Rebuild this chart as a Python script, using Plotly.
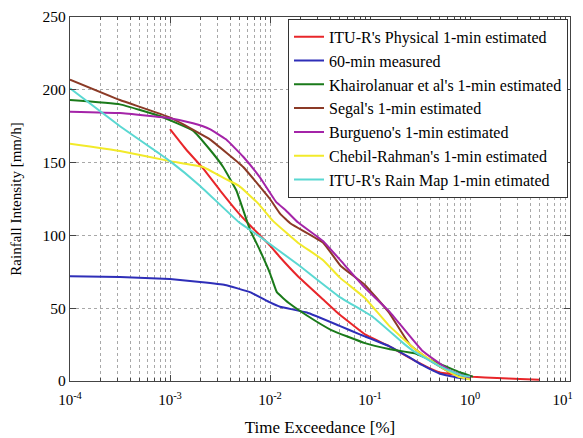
import plotly.graph_objects as go

# ---- data (time exceedance in %, rainfall intensity in mm/h) ----
red_x = [0.001, 0.00145, 0.00214, 0.00316, 0.0049, 0.0063, 0.01, 0.0126, 0.019, 0.034, 0.049, 0.089, 0.155, 0.28, 0.49, 0.79, 1.07, 1.86, 3.16, 5.0]
red_y = [173, 159, 146, 131, 115, 107, 93, 85, 72, 56, 46, 32, 24, 14, 6, 4, 3, 2, 1.3, 0.8]

blue_x = [0.0001, 0.000316, 0.001, 0.002, 0.00355, 0.0063, 0.01, 0.0126, 0.0234, 0.049, 0.079, 0.155, 0.251, 0.331, 0.5, 0.79, 1.0]
blue_y = [72, 71.5, 70, 68, 66, 61, 54, 51, 47, 38, 32, 24, 16, 11, 5, 2, 1.5]

green_x = [0.0001, 0.000316, 0.00079, 0.0017, 0.0025, 0.0034, 0.0046, 0.0063, 0.0079, 0.01, 0.0117, 0.0158, 0.0234, 0.041, 0.089, 0.155, 0.28, 0.49, 0.79, 1.07]
green_y = [193, 190, 182, 172, 159, 147, 131, 104, 90, 74, 61, 53, 45, 35, 26, 22, 19, 12, 6, 3]

brown_x = [0.0001, 0.000316, 0.001, 0.0025, 0.0054, 0.01, 0.0126, 0.0162, 0.034, 0.051, 0.089, 0.155, 0.25, 0.4, 0.63, 1.0]
brown_y = [207, 193, 181, 166, 147, 125, 115, 108, 95, 79, 66, 47, 25, 14, 6, 2.5]

purple_x = [0.0001, 0.000316, 0.001, 0.0017, 0.0025, 0.00363, 0.0054, 0.0079, 0.0115, 0.0145, 0.019, 0.034, 0.049, 0.089, 0.155, 0.331, 0.62, 1.0]
purple_y = [185, 184, 180.5, 177, 173, 166, 154, 140, 123, 117, 109, 96, 84, 64, 48, 21, 7.5, 2]

yellow_x = [0.0001, 0.000316, 0.001, 0.00214, 0.00355, 0.0049, 0.0076, 0.0107, 0.019, 0.034, 0.05, 0.089, 0.155, 0.28, 0.5, 0.76, 1.0]
yellow_y = [163, 158, 151, 147, 139, 134, 122, 110, 95, 83, 71, 57, 38, 22, 10, 3, 1]

cyan_x = [0.0001, 0.000316, 0.00079, 0.001, 0.002, 0.0049, 0.0076, 0.019, 0.049, 0.107, 0.224, 0.28, 0.5, 0.81, 1.0]
cyan_y = [201, 175, 156, 151, 134, 109, 100, 80, 58, 44, 25, 20, 10, 4, 3]

series_names = [
    "ITU-R's Physical 1-min estimated",
    "60-min measured",
    "Khairolanuar et al's 1-min estimated",
    "Segal's 1-min estimated",
    "Burgueno's 1-min estimated",
    "Chebil-Rahman's 1-min estimated",
    "ITU-R's Rain Map 1-min etimated",
]
series_colors = ["#e8262a", "#2e2eb8", "#1a7a1a", "#8b3a26", "#a424a8", "#f2ea2a", "#5ad8d2"]

x_tickvals = [1e-4, 1e-3, 1e-2, 1e-1, 1e0, 1e1]
x_ticktext = ["10<sup>-4</sup>", "10<sup>-3</sup>", "10<sup>-2</sup>", "10<sup>-1</sup>", "10<sup>0</sup>",
              "10<sup>1</sup>&nbsp;&nbsp;&nbsp;&nbsp;"]
y_tickvals = [0, 50, 100, 150, 200, 250]

xs = [red_x, blue_x, green_x, brown_x, purple_x, yellow_x, cyan_x]
ys = [red_y, blue_y, green_y, brown_y, purple_y, yellow_y, cyan_y]

fig = go.Figure()
for i, (name, col, x, y) in enumerate(zip(series_names, series_colors, xs, ys)):
    fig.add_trace(go.Scatter(
        x=x, y=y, mode="lines", name=name, legendgroup=f"g{i}",
        line=dict(color=col, width=2, shape="spline", smoothing=0.3),
    ))

font_family = "Liberation Serif, Times New Roman, serif"
grid_col = "#a8a8a8"
axis_col = "#444444"

# the page body has an 8px margin, so the figure is 8px smaller than the window
fig.update_layout(
    width=575, height=430,
    margin=dict(l=62, r=13, t=9, b=57),
    paper_bgcolor="white", plot_bgcolor="white",
    font=dict(family=font_family, size=15, color="black"),
    showlegend=True,
    legend=dict(
        x=0.996, y=0.995, xanchor="right", yanchor="top",
        bgcolor="white", bordercolor="#333333", borderwidth=1,
        font=dict(family=font_family, size=16, color="black"),
        tracegroupgap=0,
    ),
)

fig.update_xaxes(
    type="log", range=[-4, 1], automargin=False,
    tickvals=x_tickvals, ticktext=x_ticktext,
    ticks="inside", ticklen=6, tickcolor=axis_col,
    ticklabeloverflow="allow", ticklabelstandoff=5,
    showline=True, linecolor=axis_col, linewidth=1.2, mirror="allticks",
    showgrid=True, gridcolor=grid_col, griddash="dot", gridwidth=1,
    zeroline=False,
    minor=dict(dtick="D1", ticks="inside", ticklen=3, tickcolor=axis_col,
               showgrid=True, gridcolor=grid_col, griddash="dot", gridwidth=1),
    title=dict(text="Time Exceedance [%]", font=dict(family=font_family, size=17), standoff=14),
    tickfont=dict(family=font_family, size=15),
)
fig.update_yaxes(
    range=[0, 250], tickvals=y_tickvals, automargin=False,
    ticks="inside", ticklen=6, tickcolor=axis_col,
    ticklabeloverflow="allow",
    showline=True, linecolor=axis_col, linewidth=1.2, mirror="allticks",
    showgrid=True, gridcolor=grid_col, griddash="dot", gridwidth=1,
    zeroline=False,
    title=dict(text="Rainfall Intensity [mm/h]", font=dict(family=font_family, size=15), standoff=20),
    tickfont=dict(family=font_family, size=15.5),
)

fig.write_html("out.html")
